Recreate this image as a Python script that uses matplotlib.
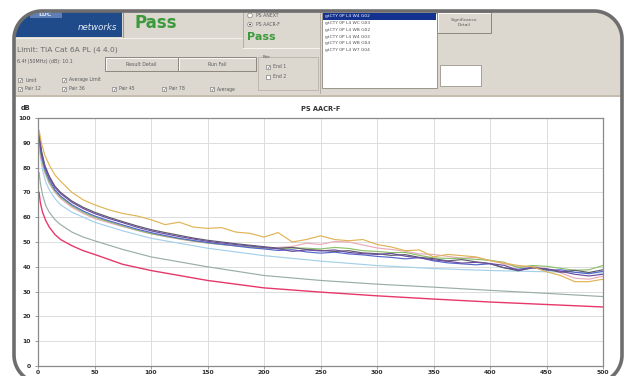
import numpy as np
import matplotlib
matplotlib.use("Agg")
import matplotlib.pyplot as plt
from matplotlib.patches import Rectangle, Circle, PathPatch
from matplotlib.path import Path

W, H = 627, 376

# Smooth curves (limit lines and modelled references)
freq_smooth = [1, 2, 4, 7, 10, 15, 20, 30, 40, 50, 75, 100, 150, 200,
               250, 300, 350, 400, 450, 500]
limit_red = [70, 66, 62, 58.5, 56, 53, 51, 48.5, 46.5, 45, 41, 38.5, 34.5,
             31.5, 29.8, 28.3, 27, 25.8, 24.8, 23.8]
avg_limit = [78, 74, 69, 64.5, 62, 59, 57, 54, 52, 50.5, 47, 44, 40, 36.5,
             34.5, 33, 31.8, 30.5, 29.3, 28]
light_blue = [90, 85, 79, 74, 71, 67.5, 65, 62, 60, 58, 54.5, 51.5, 47.5,
              44.5, 42.3, 40.5, 39.3, 38.5, 38, 37.5]

# Measured pairs
freq = [1, 3, 6, 10, 15, 20, 30, 40, 50, 62.5, 75, 87.5, 100, 112.5, 125,
        137.5, 150, 162.5, 175, 187.5, 200, 212.5, 225, 237.5, 250, 262.5,
        275, 287.5, 300, 312.5, 325, 337.5, 350, 362.5, 375, 387.5, 400,
        412.5, 425, 437.5, 450, 462.5, 475, 487.5, 500]
pair_yellow = [95, 90, 85, 81, 77, 74.5, 70, 67, 65, 63, 61.5, 60.5, 59, 57,
               58, 56, 55.5, 55.8, 54, 53.5, 52, 53.8, 50, 51, 52.5, 51, 50.5,
               51, 49, 48, 46.5, 46.8, 44, 45, 44.5, 44, 42.5, 41.5, 40.5, 40,
               38, 36.5, 34, 34, 35]
pair_purple = [93, 86, 80.5, 76, 72, 69.5, 66, 63.5, 61.5, 59.5, 57.8, 56,
               54.5, 53.3, 52.2, 51.2, 50.3, 49.6, 49, 48.4, 47.8, 47.3, 46.2,
               46.8, 46.4, 46.8, 45.8, 45.3, 45, 45.4, 44.3, 43.6, 42.8, 42.2,
               41.5, 41.8, 41.3, 40.6, 38.6, 39.5, 39.2, 38.2, 37, 36.3, 37]
pair_blue = [92, 85, 79.5, 75, 71, 68.5, 65, 62.5, 60.5, 58.6, 56.9, 55.2,
             53.8, 52.6, 51.5, 50.6, 49.8, 49.1, 48.4, 47.7, 47.2, 46.6, 46.9,
             46, 45.5, 45.9, 45.2, 44.8, 44.2, 43.8, 43.2, 43.7, 42.4, 41.6,
             41.2, 40.8, 41.2, 39.6, 39, 39.8, 38.6, 38.8, 37.8, 37.2, 38.2]
pair_gray = [94, 87, 81, 76.5, 72.5, 70, 66.5, 64, 62, 60, 58.2, 56.5, 55,
             53.8, 52.7, 51.6, 50.7, 50, 49.3, 48.7, 48.1, 47.5, 47.8, 47,
             46.6, 46.2, 46.5, 45.6, 45.3, 44.6, 44.9, 43.8, 43.3, 42.4, 42.9,
             42, 41.3, 39.6, 38.4, 39.7, 39, 37.8, 38.6, 37.7, 38.8]
pair_green = [91, 84, 78.5, 74, 70.5, 68, 64.5, 62, 60, 58.2, 56.5, 54.8,
              53.4, 52.3, 51.3, 50.4, 49.6, 49, 48.5, 48, 47.6, 47.3, 47.6,
              47.5, 47.2, 47.8, 47.4, 46.5, 46.2, 45.7, 45.8, 44.6, 43.6, 43.4,
              43.4, 43, 42.6, 41.8, 39.6, 40.5, 40.2, 39.4, 38.6, 38.8, 40.5]
pair_pink = [89, 83, 78, 73.5, 70, 67.5, 64, 61.5, 59.5, 57.8, 56.2, 54.7,
             53.3, 52.2, 51.2, 50.3, 49.6, 49, 48.5, 48, 47.5, 47.8, 48.2,
             49.5, 49, 50.2, 50, 48.8, 47.6, 47, 46.3, 45.2, 45, 44.2, 43.5,
             43.8, 42.5, 41.2, 40, 40.3, 39.2, 37.6, 35.4, 35, 36.2]

x_ticks = list(range(0, 501, 50))
y_ticks = list(range(0, 101, 10))

list_items = ["gtCTY 0P L4 W4 G02", "gtCTY 0P L4 WC G03", "gtCTY 0P L4 WB G02",
              "gtCTY 0P L4 W4 G03", "gtCTY 0P L4 WB G04", "gtCTY 0P L4 W7 G04"]
checks_row1 = [("Limit", 18), ("Average Limit", 62)]
checks_row2 = [("Pair 12", 18), ("Pair 36", 62), ("Pair 45", 112),
               ("Pair 78", 162), ("Average", 210)]

PANEL = "#dcd8d0"
TXT = "#5a5a5a"


def rounded_frame_path(x0, y0, x1, y1, r, n=24):
    """Closed rounded-rectangle outline in pixel coordinates (y downward)."""
    pts = []
    corners = [((x1 - r, y0 + r), -90, 0), ((x1 - r, y1 - r), 0, 90),
               ((x0 + r, y1 - r), 90, 180), ((x0 + r, y0 + r), 180, 270)]
    for (cx, cy), a0, a1 in corners:
        t = np.radians(np.linspace(a0, a1, n))
        pts.extend(zip(cx + r * np.cos(t), cy + r * np.sin(t)))
    pts.append(pts[0])
    codes = [Path.MOVETO] + [Path.LINETO] * (len(pts) - 2) + [Path.CLOSEPOLY]
    return Path(pts, codes)


FRAME = (14, 11, 622, 383, 28)

fig = plt.figure(figsize=(W / 100, H / 100), dpi=100, facecolor="white")

# ---- background layer (pixel coordinates, y downward) ----
bg = fig.add_axes([0, 0, 1, 1], zorder=0)
bg.set_xlim(0, W)
bg.set_ylim(H, 0)
bg.axis("off")

clip = PathPatch(rounded_frame_path(*FRAME), transform=bg.transData,
                 facecolor="none", edgecolor="none")
bg.add_patch(clip)


def rect(x, y, w, h, fc, ec="none", lw=0.6, z=1):
    r = Rectangle((x, y), w, h, facecolor=fc, edgecolor=ec, linewidth=lw, zorder=z)
    bg.add_patch(r)
    r.set_clip_path(clip)
    return r


def seg(xs, ys, color, lw, z=3):
    (ln,) = bg.plot(xs, ys, color=color, lw=lw, zorder=z)
    ln.set_clip_path(clip)
    return ln


def txt(x, y, s, size=3.6, color=TXT, **kw):
    t = bg.text(x, y, s, fontsize=size, color=color, va="center", **kw)
    t.set_clip_path(clip)
    return t


def button(x, y, w, h, label, size=3.4):
    rect(x, y, w, h, PANEL, ec="#8c8880", lw=0.7, z=2)
    seg([x + 0.5, x + w - 1], [y + 0.7, y + 0.7], "white", 0.6)
    seg([x + 0.7, x + 0.7], [y + 0.5, y + h - 1], "white", 0.6)
    txt(x + w / 2, y + h / 2, label, size=size, ha="center", zorder=4)


def checkbox(x, y, label):
    rect(x, y - 2.2, 4.4, 4.4, "white", ec="#808080", lw=0.5, z=3)
    txt(x + 2.2, y, "\u2713", size=3.4, color="#404040", ha="center", zorder=4)
    txt(x + 7, y, label, size=3.3, zorder=4)


# control panel
rect(0, 0, W, 95, PANEL)
seg([14, 622], [95.5, 95.5], "#c4bcac", 1.4, z=2)

# logo block
rect(0, 0, 122, 36.5, "#1f4b8a", z=2)
rect(30, 11, 32, 7, "#5f7fb5", z=3)
txt(38, 14.5, "LUC", size=4.5, color="#dfe6f2", weight="bold", zorder=4)
txt(78, 27, "networks", size=6.2, color="#e4ebf4", style="italic", zorder=4)
seg([122.5, 122.5], [11, 37], "#9a968e", 0.8)
seg([14, 243], [37.5, 37.5], "#f2f0ea", 0.8)

txt(135, 23, "Pass", size=12, color="#3c9a3c", weight="bold", zorder=4)

# separators
seg([243, 243], [11, 48], "#aaa69e", 0.6)
seg([243, 320], [48, 48], "#f4f2ec", 0.8)
seg([320, 320], [11, 93], "#aaa69e", 0.6)

# radio buttons
for yy, lab, on in [(15.5, "PS ANEXT", False), (24.5, "PS AACR-F", True)]:
    bg.add_patch(Circle((250, yy), 2.3, facecolor="white", edgecolor="#808080",
                        lw=0.5, zorder=3))
    if on:
        bg.add_patch(Circle((250, yy), 0.9, facecolor="#303030", zorder=4))
    txt(256, yy, lab, size=3.3, zorder=4)
txt(247, 37, "Pass", size=8, color="#3c9a3c", weight="bold", zorder=4)

# limit information
txt(17, 50, "Limit: TIA Cat 6A PL (4 4.0)", size=5.4, color="#6a6a6a", zorder=4)
txt(17, 62, "6.4f (50MHz) (dB): 10.1", size=3.4, zorder=4)
button(105, 57, 73, 14, "Result Detail")
button(178, 57, 78, 14, "Run Fail")

# pair / end group
rect(258, 57, 60, 33, "none", ec="#b0aca4", lw=0.5, z=2)
txt(263, 57, "Pair", size=3.2, zorder=4)
checkbox(266, 67, "End 1")
rect(266, 74.8, 4.4, 4.4, "white", ec="#808080", lw=0.5, z=3)
txt(273, 77, "End 2", size=3.3, zorder=4)

for lab, xx in checks_row1:
    checkbox(xx, 80, lab)
for lab, xx in checks_row2:
    checkbox(xx, 89, lab)

# test list
rect(322, 13, 115, 75, "white", ec="#8c8880", lw=0.6, z=2)
rect(323, 13.3, 113, 6.4, "#13318e", z=3)
for i, item in enumerate(list_items):
    col = "white" if i == 0 else "#505050"
    txt(325, 16.5 + 6.7 * i, item, size=3.2, color=col, zorder=4)

button(437, 12, 54, 21, "Significance\nDetail", size=3.2)
rect(440, 65, 41, 21, "white", ec="#9a968e", lw=0.6, z=2)

# chart captions
bg.text(26, 108, "dB", fontsize=4.8, weight="bold", color="#303030",
        ha="center", va="center", zorder=4)
bg.text(321, 109, "PS AACR-F", fontsize=4.8, weight="bold", color="#303030",
        ha="center", va="center", zorder=4)

# ---- chart ----
ax = fig.add_axes([38 / W, (H - 366) / H, 565 / W, 248 / H], zorder=2)
ax.set_facecolor("white")
ax.set_xlim(0, 500)
ax.set_ylim(0, 100)
ax.set_xticks(x_ticks)
ax.set_yticks(y_ticks)
ax.grid(True, color="#dcdcdc", lw=0.7)
ax.set_axisbelow(True)
for sp in ax.spines.values():
    sp.set_color("#8a8a8a")
    sp.set_linewidth(0.9)
ax.tick_params(axis="both", labelsize=4.4, colors="#8a8a8a", labelcolor="#303030",
               length=2, width=0.6)
ax.tick_params(axis="y", pad=3)
ax.tick_params(axis="x", pad=1.2)
for lab in ax.get_xticklabels() + ax.get_yticklabels():
    lab.set_fontweight("bold")

lw = 0.85
ax.plot(freq_smooth, limit_red, color="#e6386a", lw=1.0)
ax.plot(freq_smooth, avg_limit, color="#9aaea4", lw=lw)
ax.plot(freq_smooth, light_blue, color="#a4d0ea", lw=lw)
ax.plot(freq, pair_pink, color="#eaaabb", lw=lw)
ax.plot(freq, pair_green, color="#8cbf6a", lw=lw)
ax.plot(freq, pair_blue, color="#5566cc", lw=lw)
ax.plot(freq, pair_gray, color="#5c5c68", lw=lw)
ax.plot(freq, pair_purple, color="#6c4c9e", lw=lw)
ax.plot(freq, pair_yellow, color="#e0b456", lw=lw)

# ---- rounded outer frame ----
fg = fig.add_axes([0, 0, 1, 1], zorder=10)
fg.set_xlim(0, W)
fg.set_ylim(H, 0)
fg.axis("off")
fg.patch.set_alpha(0)
fg.add_patch(PathPatch(rounded_frame_path(*FRAME), facecolor="none",
                       edgecolor="#6e6e6e", lw=2.6))

fig.savefig("out.png", dpi=100, facecolor="white")
